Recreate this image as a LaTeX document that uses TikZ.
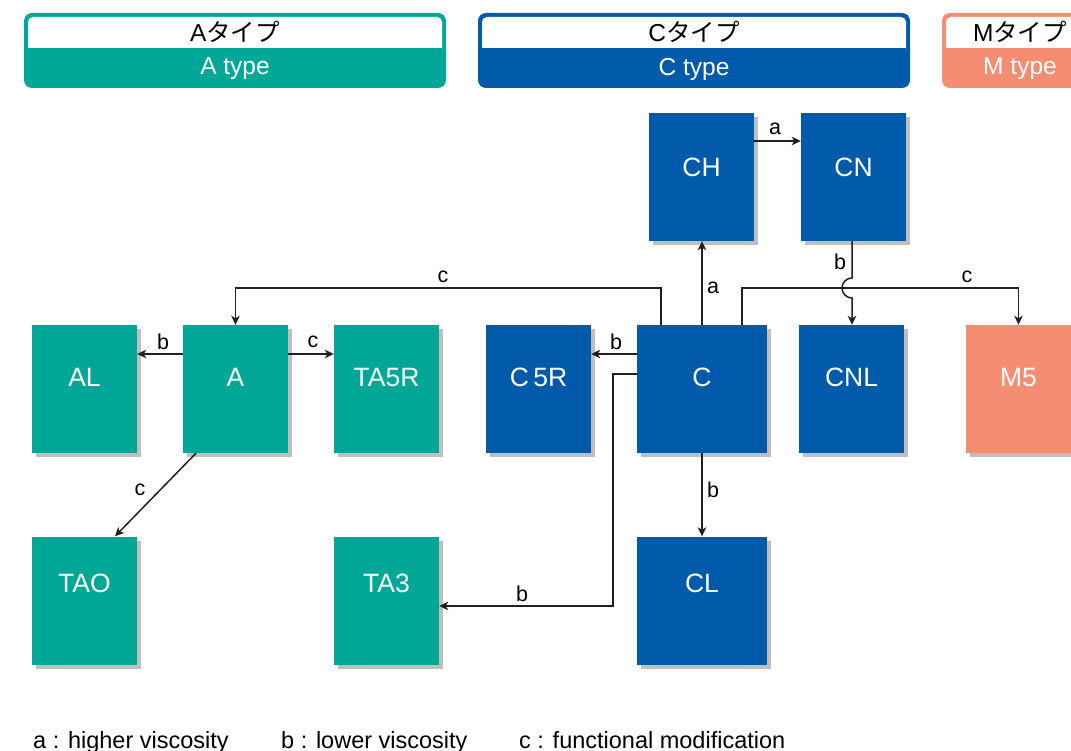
\documentclass[tikz,border=0pt]{standalone}
\usepackage{fontspec}
\setmainfont{Liberation Sans}
\newfontfamily\cjk{Noto Sans CJK JP}
\usetikzlibrary{arrows.meta,shadows,calc}
\definecolor{acol}{HTML}{00A796}
\definecolor{ccol}{HTML}{005AAA}
\definecolor{mcol}{HTML}{F58D72}
\definecolor{linecol}{HTML}{231F20}
\begin{document}
\begin{tikzpicture}[x=1pt,y=-1pt,
  box/.style={rectangle, minimum width=105pt, minimum height=128pt, inner sep=0pt,
    text=white, font=\fontsize{26.5}{30}\selectfont, text height=19pt, text depth=24pt,
    general shadow={fill=black!25, shadow xshift=4pt, shadow yshift=-4pt}},
  toprow/.style={text depth=20pt},
  botrow/.style={text depth=36pt},
  abox/.style={box, fill=acol},
  cbox/.style={box, fill=ccol},
  mbox/.style={box, fill=mcol},
  wide/.style={minimum width=130pt},
  conn/.style={draw=linecol, line width=1.5pt, -{Stealth[length=9pt,width=8.5pt,inset=2.5pt]}},
  lab/.style={font=\fontsize{21.5}{25}\selectfont, text=black, inner sep=0pt},
  hdr/.style={font=\fontsize{24.5}{28}\selectfont, inner sep=0pt},
  leg/.style={font=\fontsize{23.5}{27}\selectfont, inner sep=0pt, anchor=base west}]
\useasboundingbox (0,0) rectangle (1071,751);

% headers
\fill[acol, rounded corners=8pt] (24,13) rectangle (446,88);
\fill[white, rounded corners=5pt] (28,17) rectangle (442,58);
\fill[acol] (28,48) rectangle (442,60);
\node[hdr] (ahj) at (235,32) {A{\cjk タイプ}};
\node[hdr, text=white] (ahe) at (235,69) {A type};

\fill[ccol, rounded corners=8pt] (478,13) rectangle (910,88);
\fill[white, rounded corners=5pt] (482,17) rectangle (906,58);
\fill[ccol] (482,48) rectangle (906,60);
\node[hdr] (chj) at (694,32) {C{\cjk タイプ}};
\node[hdr, text=white] (che) at (694,69) {C type};

\fill[mcol, rounded corners=8pt] (942,13) rectangle (1100,88);
\fill[white, rounded corners=5pt] (946,17) rectangle (1096,58);
\fill[mcol] (946,48) rectangle (1096,60);
\node[hdr] (mhj) at (1020,32) {M{\cjk タイプ}};
\node[hdr, text=white] (mhe) at (1020,69) {M type};

% boxes
\node[abox] (AL) at (84.5,389) {AL};
\node[abox] (A) at (235.5,389) {A};
\node[abox] (TA5R) at (386.5,389) {TA5R};
\node[cbox] (C5R) at (538.5,389) {C\,5R};
\node[cbox, wide] (C) at (702,389) {C};
\node[cbox] (CNL) at (851.5,389) {CNL};
\node[mbox] (M5) at (1018.5,389) {M5};
\node[cbox, toprow] (CH) at (701.5,177) {CH};
\node[cbox, toprow] (CN) at (853.5,177) {CN};
\node[abox, botrow] (TAO) at (84.5,600.5) {TAO};
\node[abox, botrow] (TA3) at (386.5,600.5) {TA3};
\node[cbox, wide, botrow] (CL) at (702,600.5) {CL};

% connectors
\draw[conn] (CH.east |- 0,141) -- (CN.west |- 0,141);
\node[lab] (la1) at (775,129) {a};
\draw[conn] (C.north -| 702,0) -- (CH.south -| 702,0);
\node[lab] (la2) at (713,288) {a};
\draw[conn] (C.north -| 661,0) |- (A.north |- 0,288) -- (A.north);
\node[lab] (lc1) at (443,277) {c};
\draw[conn] (C.north -| 742,0) |- (M5.north |- 0,288) -- (M5.north);
\node[lab] (lc2) at (967,277) {c};
\draw[conn] (CN.south -| 852,0) -- (852,278) arc[start angle=90, end angle=270, radius=10pt] -- (CNL.north -| 852,0);
\node[lab] (lb1) at (840,262) {b};
\draw[conn] (A.west |- 0,354) -- (AL.east |- 0,354);
\node[lab] (lb2) at (163,342) {b};
\draw[conn] (A.east |- 0,354) -- (TA5R.west |- 0,354);
\node[lab] (lc3) at (313,342) {c};
\draw[conn] (C.west |- 0,354) -- (C5R.east |- 0,354);
\node[lab] (lb3) at (616,342) {b};
\draw[conn] (A.south -| 196,0) -- (TAO.north -| 115,0);
\node[lab] (lc4) at (140,490) {c};
\draw[conn] (C.south) -- (CL.north);
\node[lab] (lb4) at (713,490) {b};
\draw[conn] (C.west |- 0,374) -| (613,606) -- (TA3.east |- 0,606);
\node[lab] (lb5) at (522,594) {b};

% legend
\node[leg] (lg1) at (33,748) {a : higher viscosity};
\node[leg] (lg2) at (281,748) {b : lower viscosity};
\node[leg] (lg3) at (519,748) {c : functional modification};
\end{tikzpicture}
\end{document}
